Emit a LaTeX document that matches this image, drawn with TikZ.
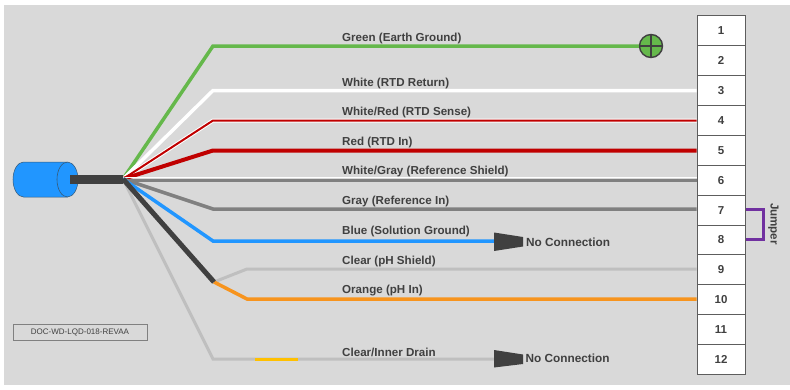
\documentclass[tikz,border=0pt]{standalone}
\usepackage{fontspec}
\setmainfont{Liberation Sans}
\definecolor{bgg}{HTML}{D9D9D9}
\definecolor{ink}{HTML}{404040}
\definecolor{grn}{HTML}{65B84B}
\definecolor{rd}{HTML}{C00000}
\definecolor{gry}{HTML}{808080}
\definecolor{blu}{HTML}{2196FF}
\definecolor{clr}{HTML}{BFBFBF}
\definecolor{org}{HTML}{F7941E}
\definecolor{yel}{HTML}{FFC000}
\definecolor{pur}{HTML}{7030A0}
\tikzset{
  wire/.style={line join=miter,line width=#1},
  lbl/.style={anchor=west,inner sep=0pt,text=ink,font=\fontsize{11.6}{12}\selectfont\bfseries},
  nc/.style={anchor=west,inner sep=0pt,text=ink,font=\fontsize{11.8}{12}\selectfont\bfseries},
  term/.style={draw=ink!85!white,line width=1pt,fill=white,minimum width=48pt,minimum height=29.9pt,inner sep=0pt,text=ink,font=\fontsize{11.5}{12}\selectfont\bfseries},
  tip/.style={fill=ink,draw=none}
}
\begin{document}
\begin{tikzpicture}[x=1pt,y=-1pt]
\useasboundingbox (0,0) rectangle (790,389);
\fill[bgg] (4,5) rectangle (790,385);
% terminal block
\foreach \n in {1,...,12}{
  \node[term] (t\n) at (721,{15.5+29.93*(\n-0.5)}) {\n};
}
% hub and bends
\coordinate (hub) at (123,179);
\coordinate (hubw) at (123,177.5);
% cable body
\fill[blu,draw=ink!70!blu,line width=0.5pt] (23.5,162) -- (67.5,162) arc[start angle=90,end angle=-90,x radius=10.5pt,y radius=17.5pt] -- (23.5,197) arc[start angle=270,end angle=90,x radius=10.5pt,y radius=17.5pt] -- cycle;
\draw[ink!70!blu,line width=0.6pt] (67.5,162) arc[start angle=90,end angle=270,x radius=10.5pt,y radius=17.5pt];
% clear inner drain
\coordinate (cd) at (213,359);
\node[inner sep=0pt,minimum size=0pt] (nc2) at (494,359) {};
\draw[clr,wire=3pt] (hub) -- (cd) -- (nc2);
\draw[yel,wire=3pt] (255,359) -- (298,359);
% green
\coordinate (gb) at (213,46);
\node[circle,draw=ink,line width=1.4pt,fill=grn,minimum size=23pt,inner sep=0pt] (gnd) at (651,46) {};
\draw[grn,wire=3.5pt] (hub) -- (gb) -- (gnd.west);
\draw[ink,line width=1.2pt] (gnd.north) -- (gnd.south) (gnd.west) -- (gnd.east);
% white RTD return
\coordinate (wb) at (213,90.5);
\draw[white,wire=3.5pt] (hub) -- (wb) -- (t3.west|-wb);
% white/red
\coordinate (wrb) at (213,120.5);
\draw[white,wire=4pt] (hub) -- (wrb) -- (t4.west|-wrb);
\draw[rd,wire=2pt] (hub) -- (wrb) -- (t4.west|-wrb);
% red
\coordinate (rb) at (213,150.5);
\draw[rd,wire=4pt] (hub) -- (rb) -- (t5.west|-rb);
% white/gray
\coordinate (gw) at (123,180.5);
\draw[gry,wire=3pt] (gw) -- (t6.west|-gw);
\draw[white,wire=1.8pt] (hubw) -- (t6.west|-hubw);
% gray
\coordinate (gyb) at (213,209);
\draw[gry,wire=3.5pt] (hub) -- (gyb) -- (t7.west|-gyb);
% blue
\coordinate (bb) at (213,241);
\node[inner sep=0pt,minimum size=0pt] (nc1) at (494,241) {};
\draw[blu,wire=3.5pt] (hub) -- (bb) -- (nc1);
% black split
\coordinate (sp) at (214,282);
\coordinate (cb) at (247,269);
\coordinate (ob) at (247,299);
\draw[clr,wire=3pt] (sp) -- (cb) -- (t9.west|-cb);
\draw[org,wire=3.5pt] (sp) -- (ob) -- (t10.west|-ob);
\draw[ink,wire=5pt] (hub) -- (sp);
% cable stub
\fill[ink] (69.5,175) rectangle (123,184);
% no-connection tips
\fill[tip] (494,232.5) -- (523,237) -- (523,246.5) -- (494,251) -- cycle;
\fill[tip] (494,350) -- (523,354.5) -- (523,364) -- (494,367.5) -- cycle;
% jumper
\coordinate (j1) at (763,209);
\coordinate (j2) at (763,239.5);
\draw[pur,wire=3pt] (t7.east|-j1) -- (j1) -- (j2) -- (t8.east|-j2);
\node[inner sep=0pt,rotate=-90,text=ink,font=\fontsize{11.6}{12}\selectfont\bfseries] (jl) at (773.5,224) {Jumper};
% labels
\node[lbl] (l1) at (342,38.5) {Green (Earth Ground)};
\node[lbl] (l2) at (342,83) {White (RTD Return)};
\node[lbl] (l3) at (342,112) {White/Red (RTD Sense)};
\node[lbl] (l4) at (342,142) {Red (RTD In)};
\node[lbl] (l5) at (342,171.5) {White/Gray (Reference Shield)};
\node[lbl] (l6) at (342,201) {Gray (Reference In)};
\node[lbl] (l7) at (342,231.5) {Blue (Solution Ground)};
\node[lbl] (l8) at (342,261.5) {Clear (pH Shield)};
\node[lbl] (l9) at (342,290.5) {Orange (pH In)};
\node[lbl] (l10) at (342,352.5) {Clear/Inner Drain};
\node[nc] (n1) at (526,242) {No Connection};
\node[nc] (n2) at (525.5,358.5) {No Connection};
% document box
\node[draw=gry,line width=0.8pt,minimum width=134pt,minimum height=16pt,inner sep=0pt,text=ink,font=\fontsize{8}{10}\selectfont] (doc) at (80,332.5) {DOC-WD-LQD-018-REVAA};
\end{tikzpicture}
\end{document}
